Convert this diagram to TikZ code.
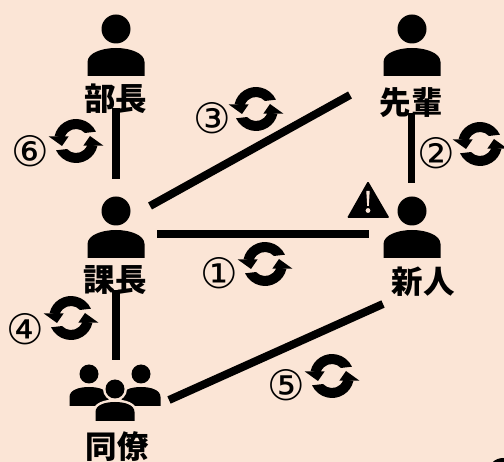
\documentclass[tikz,border=0pt]{standalone}
\usepackage{fontspec}
\newfontfamily\cjk{Noto Sans CJK JP}
\newfontfamily\symb{DejaVu Sans}
\definecolor{paper}{HTML}{FBE5D6}
\tikzset{
  x=1pt,y=-1pt,
  link/.style={draw=black,line width=8pt},
  role/.style={font=\cjk\bfseries\fontsize{31.5}{32}\selectfont,inner sep=0pt,text=black},
  num/.style={font=\symb\fontsize{42}{42}\selectfont,inner sep=0pt,text=black},
  pics/person/.style={code={
    \fill (0,-19) circle (14.5);
    \fill (-28.5,28) -- (-28.5,14) .. controls (-28.5,5) and (-14,0) .. (0,0) .. controls (14,0) and (28.5,5) .. (28.5,14) -- (28.5,28) -- cycle;
  }},
  pics/small person/.style={code={
    \path[pic actions] (0,-13) circle (9.5);
    \path[pic actions] (-19.5,19) -- (-19.5,10) .. controls (-19.5,3) and (-10,0) .. (0,0) .. controls (10,0) and (19.5,3) .. (19.5,10) -- (19.5,19) -- cycle;
  }},
  pics/cycle/.style={code={
    \foreach \r in {0,180}{
      \begin{scope}[rotate=\r]
        \fill (-27.5,-4.7) -- (-7.3,-4.7) -- (-14,5) -- cycle;
        \fill (193:22) arc[start angle=193,end angle=335,radius=22] -- (318:12) arc[start angle=318,end angle=195,radius=12] -- cycle;
      \end{scope}
    }
  }},
}
\begin{document}
\begin{tikzpicture}
\useasboundingbox (0,0) rectangle (504,462);
\fill[paper] (0,0) rectangle (504,462);
\begin{scope}
\clip (0,0) rectangle (504,462);
\fill (503,473) circle (15);
\end{scope}
% person icons
\pic at (116,48) {person};
\pic at (412,48) {person};
\pic at (116,230) {person};
\pic at (412,230) {person};
% colleagues
\pic[fill=black] at (89,387) {small person};
\pic[fill=black] at (141,387) {small person};
\pic[fill=paper,draw=paper,line width=5pt] at (115,402) {small person};
\pic[fill=black] at (115,402) {small person};
% warning
\fill[rounded corners=1.2pt] (368,181) -- (389.5,218) -- (347,218) -- cycle;
\fill[paper] (366.3,191) -- (369.7,191) -- (368.8,206) -- (367.2,206) -- cycle;
\fill[paper] (368,210.5) circle (2.4);
% labels
\node[role] (bucho) at (116,99) {部長};
\node[role] (senpai) at (411,103) {先輩};
\node[role] (kacho) at (115,280) {課長};
\node[role] (shinjin) at (423,282) {新人};
\node[role] (doryo) at (117,447) {同僚};
% connector ends
\coordinate (a1) at (116,108); \coordinate (a2) at (116,179.5);
\coordinate (b1) at (411,113); \coordinate (b2) at (411,183);
\coordinate (c1) at (150,206); \coordinate (c2) at (350,95);
\coordinate (d1) at (157,234.5); \coordinate (d2) at (369,234.5);
\coordinate (e1) at (116,290); \coordinate (e2) at (116,360);
\coordinate (f1) at (169,400); \coordinate (f2) at (383,304);
\draw[link] (a1) -- (a2);
\draw[link,line width=7pt] (b1) -- (b2);
\draw[link] (c1) -- (c2);
\draw[link] (d1) -- (d2);
\draw[link] (e1) -- (e2);
\draw[link] (f1) -- (f2);
% cycles
\pic at (76,141) {cycle};
\pic at (256,109) {cycle};
\pic at (480,144) {cycle};
\pic at (71,318) {cycle};
\pic at (265,264) {cycle};
\pic at (332,376) {cycle};
% numbers
\node[num] (n1) at (219,273) {①};
\node[num] (n2) at (436,153) {②};
\node[num] (n3) at (212,118) {③};
\node[num] (n4) at (25,329) {④};
\node[num] (n5) at (286,385) {⑤};
\node[num] (n6) at (30,151) {⑥};
\end{tikzpicture}
\end{document}
